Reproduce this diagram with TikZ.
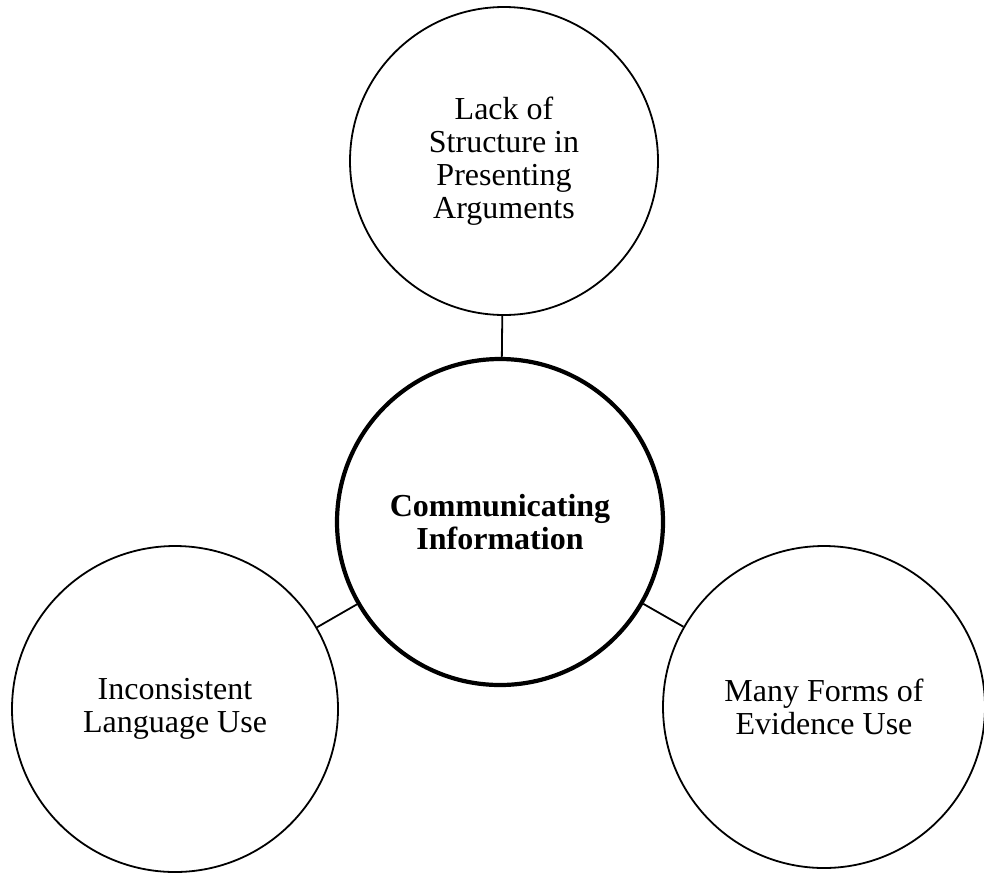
\documentclass[tikz,border=0pt]{standalone}
\usepackage{fontspec}
\setmainfont{Liberation Serif}
\begin{document}
\begin{tikzpicture}[x=1pt,y=-1pt,
  topic/.style={circle, draw=black, line width=1.8pt, fill=white, inner sep=0pt,
    align=center, font=\fontsize{32}{33}\selectfont},
  hub/.style={topic, line width=4.2pt, font=\fontsize{32}{33}\selectfont\bfseries},
  link/.style={draw=black, line width=1.8pt}]
\useasboundingbox (0,0) rectangle (984,873);

\node[hub, minimum size=326pt] (hub) at (500,522) {Communicating\\Information};
\node[topic, minimum size=308pt] (struct) at (504,161) {Lack of\\Structure in\\Presenting\\Arguments};
\node[topic, minimum size=326pt] (lang) at (175,709) {Inconsistent\\Language Use};
\node[topic, minimum size=322pt] (evid) at (824,707) {Many Forms of\\Evidence Use};

\draw[link] (struct) -- (hub);
\draw[link] (lang) -- (hub);
\draw[link] (evid) -- (hub);
\end{tikzpicture}
\end{document}
